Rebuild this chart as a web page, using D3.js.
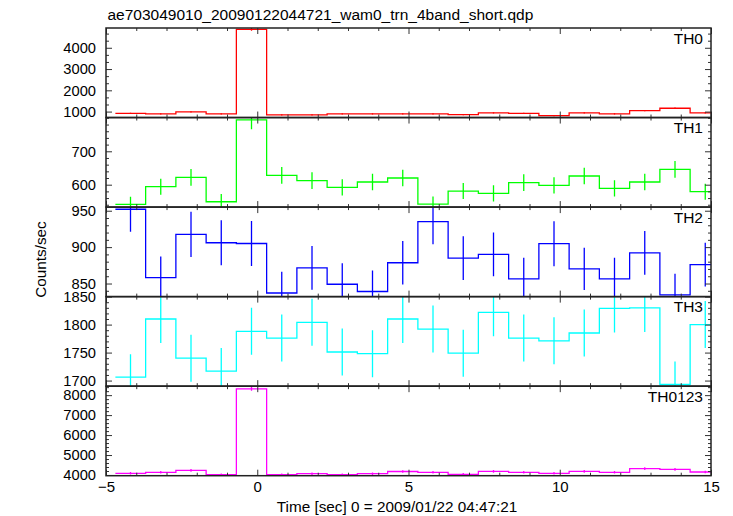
<!DOCTYPE html>
<html><head><meta charset="utf-8">
<script src="https://cdn.jsdelivr.net/npm/d3@7"></script>
<style>
body{margin:0;background:#fff;}
text{font-family:"Liberation Sans",Arial,Helvetica,sans-serif;}
</style></head><body>
<svg id="c" width="733" height="516"></svg>
<script>
// ---------- data ----------
const title = "ae703049010_20090122044721_wam0_trn_4band_short.qdp";
const xLabel = "Time [sec] 0 = 2009/01/22 04:47:21";
const yLabel = "Counts/sec";

const timeCenters = [-4.19,-3.19,-2.19,-1.19,-0.19,0.81,1.81,2.81,3.81,4.81,5.81,6.81,7.81,8.81,9.81,10.81,11.81,12.81,13.81,14.81];

const th0    = [920,890,985,890,4870,844,844,890,890,890,890,858,938,920,810,938,890,1047,1156,938];
const th0Err = [30,30,31,30,70,29,29,30,30,30,30,29,31,30,28,31,30,32,34,31];

const th1    = [541,594,622,549,794,628,612,592,608,620,542,581,574,606,598,626,589,608,646,579];
const th1Err = [23,24,25,23,28,25,25,24,25,25,23,24,24,25,24,25,24,25,25,24];

const th2    = [952,858,917.5,906,905,837,871.6,849,839,878.5,935,885,890,856.5,904.7,870,856.5,892,834.5,876];
const th2Err = [31,29,31,31,31,29,30,29,29,30,31,30,30,29,31,29,29,30,29,30];

const th3    = [1706,1810,1740,1717,1788,1776,1804,1751,1748,1810,1792,1749,1822,1776,1771,1785,1829,1830,1693,1800];
const th3Err = [41,43,42,41,42,42,42,42,42,43,42,42,43,42,42,42,43,43,41,42];

const th0123    = [4083,4133,4233,4017,8317,4017,4067,4017,4067,4175,4133,4033,4183,4133,4083,4183,4133,4317,4283,4150];
const th0123Err = [64,64,65,63,91,63,64,63,64,65,64,64,65,64,64,65,64,66,65,64];

const panelNames   = ["TH0","TH1","TH2","TH3","TH0123"];
const panelColors  = ["#ff0000","#00ff00","#0000ff","#00ffff","#ff00ff"];
const panelValues  = [th0, th1, th2, th3, th0123];
const panelErrors  = [th0Err, th1Err, th2Err, th3Err, th0123Err];
const panelDomains = [[720,4930],[533,801],[832,955],[1690,1850],[3965,8450]];
const panelMajorTicks = [[1000,2000,3000,4000],[600,700],[850,900,950],[1700,1750,1800,1850],[4000,5000,6000,7000,8000]];
const panelMinorStep  = [1000/3, 20, 10, 10, 200];

const xDomain = [-5, 15];
const xMajorTicks = [-5, 0, 5, 10, 15];
const xMinorStep = 1;
const binHalfWidth = 0.5;

// ---------- layout ----------
const L = 106, R = 711, T = 28, B = 475.7;
const H = (B - T) / 5;
const svg = d3.select("#c");

const x = d3.scaleLinear().domain(xDomain).range([L, R]);
const xMinor = d3.range(xDomain[0], xDomain[1] + 0.001, xMinorStep).filter(v => !xMajorTicks.includes(v));

const fmt = d3.format("d");

panelNames.forEach((name, i) => {
  const top = T + i * H, bot = top + H;
  const dom = panelDomains[i];
  const y = d3.scaleLinear().domain(dom).range([bot, top]);
  const vals = panelValues[i], errs = panelErrors[i], col = panelColors[i];

  const clipId = "clip" + i;
  svg.append("clipPath").attr("id", clipId)
    .append("rect").attr("x", L).attr("y", top).attr("width", R - L).attr("height", H);

  const g = svg.append("g").attr("clip-path", `url(#${clipId})`);

  // step line
  const pts = [];
  timeCenters.forEach((t, k) => {
    pts.push([x(t - binHalfWidth), y(vals[k])]);
    pts.push([x(t + binHalfWidth), y(vals[k])]);
  });
  g.append("path").attr("d", d3.line()(pts))
    .attr("fill", "none").attr("stroke", col).attr("stroke-width", 1.3);

  // error bars
  g.selectAll("line.err").data(timeCenters).join("line")
    .attr("class", "err")
    .attr("x1", t => x(t)).attr("x2", t => x(t))
    .attr("y1", (t, k) => y(vals[k] - errs[k]))
    .attr("y2", (t, k) => y(vals[k] + errs[k]))
    .attr("stroke", col).attr("stroke-width", 1.3);

  // y ticks
  const minor = d3.range(Math.ceil(dom[0] / panelMinorStep[i]) * panelMinorStep[i], dom[1], panelMinorStep[i])
    .filter(v => !panelMajorTicks[i].some(m => Math.abs(m - v) < 1e-6));
  const styleAxis = sel => {
    sel.select(".domain").remove();
    sel.selectAll(".tick line").attr("stroke", "#333").attr("stroke-width", 1);
  };
  svg.append("g").attr("transform", `translate(${L},0)`)
    .call(d3.axisLeft(y).tickValues(panelMajorTicks[i]).tickSize(-6).tickPadding(10).tickFormat(fmt))
    .call(styleAxis)
    .selectAll("text").attr("font-size", "14.7px").attr("fill", "#000")
    .attr("font-family", '"Liberation Sans",Arial,sans-serif');
  svg.append("g").attr("transform", `translate(${L},0)`)
    .call(d3.axisLeft(y).tickValues(minor).tickSize(-3).tickFormat(""))
    .call(styleAxis);
  svg.append("g").attr("transform", `translate(${R},0)`)
    .call(d3.axisRight(y).tickValues(panelMajorTicks[i]).tickSize(-6).tickFormat(""))
    .call(styleAxis);
  svg.append("g").attr("transform", `translate(${R},0)`)
    .call(d3.axisRight(y).tickValues(minor).tickSize(-3).tickFormat(""))
    .call(styleAxis);

  // x ticks top & bottom
  svg.append("g").attr("transform", `translate(0,${top})`)
    .call(d3.axisTop(x).tickValues(xMajorTicks).tickSize(-6).tickFormat(""))
    .call(styleAxis);
  svg.append("g").attr("transform", `translate(0,${top})`)
    .call(d3.axisTop(x).tickValues(xMinor).tickSize(-3).tickFormat(""))
    .call(styleAxis);
  const bx = svg.append("g").attr("transform", `translate(0,${bot})`)
    .call(d3.axisBottom(x).tickValues(xMajorTicks).tickSize(-6).tickPadding(6)
      .tickFormat(i === panelNames.length - 1 ? fmt : ""))
    .call(styleAxis);
  bx.selectAll("text").attr("font-size", "15px").attr("fill", "#000")
    .attr("font-family", '"Liberation Sans",Arial,sans-serif');
  svg.append("g").attr("transform", `translate(0,${bot})`)
    .call(d3.axisBottom(x).tickValues(xMinor).tickSize(-3).tickFormat(""))
    .call(styleAxis);

  // panel label
  svg.append("text").attr("x", 703).attr("y", top + 15.5)
    .attr("text-anchor", "end").attr("font-size", "15.5px").attr("fill", "#000")
    .text(name);
});

// frames
panelNames.forEach((n, i) => {
  svg.append("rect").attr("x", L).attr("y", T + i * H).attr("width", R - L).attr("height", H)
    .attr("fill", "none").attr("stroke", "#222").attr("stroke-width", 1.5);
});

// titles
svg.append("text").attr("x", 107.5).attr("y", 20).attr("font-size", "15.5px").attr("fill", "#000").text(title);
svg.append("text").attr("x", 397).attr("y", 512).attr("text-anchor", "middle")
  .attr("font-size", "15.3px").attr("fill", "#000").text(xLabel);
svg.append("text").attr("transform", "translate(46,259.5) rotate(-90)").attr("text-anchor", "middle")
  .attr("font-size", "15.3px").attr("fill", "#000").text(yLabel);
</script>
</body></html>
